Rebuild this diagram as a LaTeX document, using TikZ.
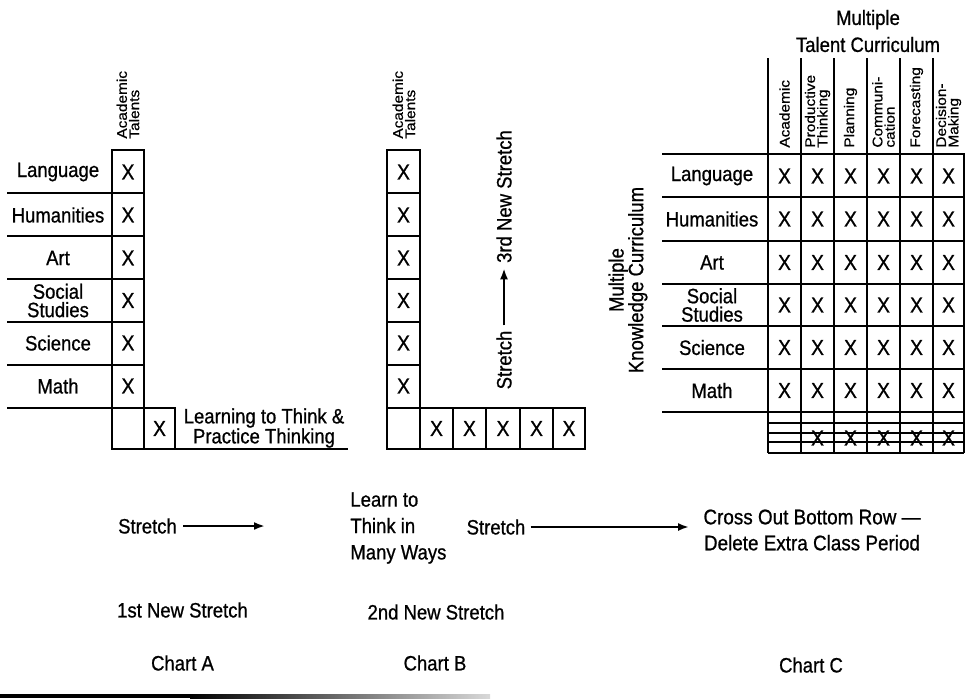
\documentclass[tikz,border=0pt]{standalone}
\usepackage{fontspec}
\setmainfont{Liberation Sans}[FakeStretch=0.89, FakeBold=0.8]
\newfontfamily\headfont{Liberation Sans}[FakeStretch=1.1, FakeBold=0.7]
\usetikzlibrary{arrows.meta}

\begin{document}
\begin{tikzpicture}[x=0.5pt, y=-0.5pt,
            grid/.style={line width=0.9pt},
            lbl/.style={font=\fontsize{10.4}{9.2}\selectfont, align=center, inner sep=1pt},
            cell/.style={font=\fontsize{10.8}{12}\selectfont, inner sep=0pt},
            colhead/.style={font=\headfont\fontsize{7}{5.1}\selectfont, rotate=90, anchor=west, align=left, inner sep=1pt},
            pushline/.style={-{Latex[length=5.5pt,width=4pt]}, line width=1.1pt}
        ]
            \useasboundingbox (0,0) rectangle (973,698);

% Chart A
            \foreach \y in {193,236,279,322,365} \draw[grid] (7,\y) -- (144,\y);
            \draw[grid] (7,408) -- (175,408) -- (175,449);
            \draw[grid] (112,150) rectangle (144,449);
            \draw[grid] (112,449) -- (348,449);
            \foreach \txt/\y [count=\i] in {Language/172, Humanities/215, Art/258, {Social\\Studies}/300.5, Science/343, Math/386} {
                \node[lbl] (a-row\i) at (58,\y) {\txt};
                \node[cell] (a-x\i) at (128,\y) {X};
            }
            \node[colhead] (a-head) at (128,141) {Academic\\Talents};
            \node[cell] (a-think) at (159.5,428.5) {X};
            \node[lbl, font=\fontsize{10.4}{10}\selectfont] (a-learn) at (264,428) {Learning to Think \&\\Practice Thinking};

% Chart B
            \foreach \y in {193,236,279,322,365} \draw[grid] (387,\y) -- (420,\y);
            \draw[grid] (387,150) rectangle (420,449);
            \draw[grid] (387,408) -- (585,408) -- (585,449) -- (387,449);
            \foreach \x in {453,486,520,553} \draw[grid] (\x,408) -- (\x,449);
            \foreach \y [count=\i] in {172,215,258,300.5,343,386} \node[cell] (b-x\i) at (403.5,\y) {X};
            \foreach \x [count=\i] in {436.5,469.5,503,536.5,569} \node[cell] (b-ways\i) at (\x,428.5) {X};
            \node[colhead] (b-head) at (404,141) {Academic\\Talents};
            \node[lbl, rotate=90, inner sep=2.5pt] (b-up) at (504,360) {Stretch};
            \node[lbl, rotate=90, inner sep=2.5pt] (b-third) at (504,196.5) {3rd New Stretch};
            \draw[pushline] (b-up) -- (b-third);

% Chart C
            \draw[grid] (662,154) -- (964,154) -- (964,453);
            \foreach \y in {197,241,284,326,369,412} \draw[grid] (662,\y) -- (964,\y);
            \foreach \x in {768,801,834,867,900,933} \draw[grid] (\x,58) -- (\x,453);
            \foreach \txt/\y [count=\i] in {Language/176, Humanities/219, Art/262.5, {Social\\Studies}/305, Science/347.5, Math/390.5} {
                \node[lbl] (c-row\i) at (712,\y) {\txt};
                \foreach \x [count=\j] in {784.5,817.5,850.5,883.5,916.5,948.5}
                    \node[cell] (c-x\i\j) at (\x,\y) {X};
            }
            \foreach \x [count=\j] in {817.5,850.5,883.5,916.5,948.5} \node[cell] (c-cut\j) at (\x,438) {X};
            \foreach \y in {423,433,442,453} \draw[grid] (768,\y) -- (964,\y);
            \node[colhead] (c-head1) at (784.5,150) {Academic};
            \node[colhead] (c-head2) at (817.5,150) {Productive\\Thinking};
            \node[colhead] (c-head3) at (850.5,150) {Planning};
            \node[colhead] (c-head4) at (883.5,150) {Communi-\\cation};
            \node[colhead] (c-head5) at (916.5,150) {Forecasting};
            \node[colhead] (c-head6) at (948.5,150) {Decision-\\Making};
            \node[lbl, font=\fontsize{10.4}{13.5}\selectfont] (c-talent) at (868,31) {Multiple\\Talent Curriculum};
            \node[lbl, rotate=90, font=\fontsize{10.4}{9.8}\selectfont] (c-know) at (628,280) {Multiple\\Knowledge Curriculum};

% Stretch notes
            \node[lbl, inner sep=3pt] (a-stretch) at (147.5,526) {Stretch};
            \coordinate (a-end) at (265,526);
            \draw[pushline] (a-stretch) -- (a-end);
            \node[lbl, anchor=west, align=left, font=\fontsize{10.4}{13.2}\selectfont] (b-learn) at (348,528) {Learn to\\Think in\\Many Ways};
            \node[lbl, inner sep=2.5pt] (b-stretch) at (496,527) {Stretch};
            \node[lbl, font=\fontsize{10.6}{13}\selectfont] (c-cross) at (812,530) {Cross Out Bottom Row —\\Delete Extra Class Period};
            \draw[pushline, shorten >=6pt] (b-stretch) -- (b-stretch -| c-cross.west);

% Captions
            \node[lbl] (a-new) at (182.5,610) {1st New Stretch};
            \node[lbl] (b-new) at (436,612) {2nd New Stretch};
            \node[lbl] (a-name) at (182.5,663) {Chart A};
            \node[lbl] (b-name) at (435,663) {Chart B};
            \node[lbl] (c-name) at (811,665) {Chart C};

% Rule at the foot
            \fill (0,694) rectangle (190,698);
            \shade[left color=black, right color=black!15] (190,694) rectangle (490,698);

        \end{tikzpicture}
\end{document}
